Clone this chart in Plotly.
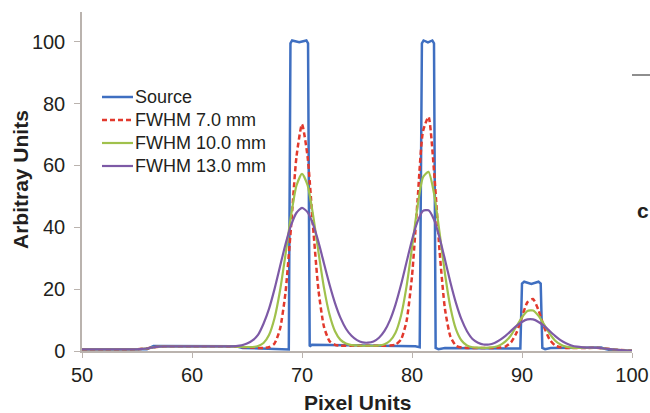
import plotly.graph_objects as go

# Source profile (step-like activity distribution)
source_x = [50, 55.9, 56.5, 64.0, 64.6, 68.4, 68.8, 68.95, 69.1, 69.75, 70.4, 70.55, 70.7, 70.9,
            75.0, 80.3, 80.7, 80.9, 81.05, 81.45, 81.85, 82.0, 82.15, 82.4, 83.0, 89.6, 89.85,
            90.0, 90.2, 90.85, 91.5, 91.7, 91.85, 92.1, 92.6, 97.2, 97.6, 98.2, 100]
source_y = [0.6, 0.6, 1.6, 1.5, 1.0, 0.7, 0.5, 99.5, 100.4, 99.8, 100.4, 99.5, 1.5, 2.0,
            1.8, 1.5, 1.2, 99.5, 100.4, 99.8, 100.4, 99.5, 1.0, 0.6, 1.0, 1.0, 0.8,
            21.8, 22.4, 21.7, 22.4, 21.8, 1.0, 0.6, 1.0, 1.1, 0.6, 0.2, 0.1]

# Sample positions for the blurred profiles
blur_x = [50, 52, 54, 55, 55.5, 56, 56.5, 57, 57.5, 60, 63, 63.5,
          64, 64.5, 65, 65.5, 66, 66.5, 67, 67.5, 68, 68.5, 69, 69.5,
          70, 70.5, 71, 71.5, 72, 72.5, 73, 73.5, 74, 74.5, 75, 75.5,
          76, 76.5, 77, 77.5, 78, 78.5, 79, 79.5, 80, 80.5, 81, 81.5,
          82, 82.5, 83, 83.5, 84, 84.5, 85, 85.5, 86, 86.5, 87, 87.5,
          88, 88.5, 89, 89.5, 90, 90.5, 91, 91.5, 92, 92.5, 93, 93.5,
          94, 94.5, 95, 95.5, 96, 97, 97.5, 98, 99, 100]

fwhm7_y = [0.5, 0.5, 0.5, 0.55, 0.7, 0.9, 1.2, 1.4, 1.5, 1.5, 1.5, 1.45,
           1.4, 1.3, 1.2, 1.1, 1.0, 1.0, 1.2, 2.4, 7.1, 18.9, 40.0, 62.9,
           73.3, 63.1, 40.4, 19.6, 7.8, 3.2, 2.0, 1.7, 1.7, 1.7, 1.7, 1.7,
           1.7, 1.7, 1.7, 1.7, 1.75, 2.05, 3.7, 9.6, 24.2, 48.4, 71.0, 75.7,
           58.3, 32.6, 13.5, 4.6, 1.7, 1.1, 1.0, 1.0, 1.0, 1.0, 1.0, 1.0,
           1.1, 1.45, 2.8, 5.9, 11.0, 15.8, 16.8, 13.2, 7.8, 3.8, 1.8, 1.2,
           1.0, 1.0, 1.0, 1.0, 1.0, 1.0, 0.8, 0.6, 0.3, 0.1]

fwhm10_y = [0.5, 0.5, 0.5, 0.55, 0.7, 0.9, 1.2, 1.4, 1.5, 1.5, 1.5, 1.45,
            1.4, 1.3, 1.3, 1.3, 1.6, 2.6, 5.2, 10.6, 19.5, 31.2, 43.7, 53.5,
            57.3, 53.7, 44.1, 31.9, 20.4, 11.8, 6.4, 3.6, 2.4, 1.9, 1.8, 1.7,
            1.7, 1.7, 1.8, 2.2, 3.3, 5.9, 11.4, 20.8, 33.4, 46.7, 56.2, 57.9,
            51.0, 38.4, 24.9, 14.0, 7.0, 3.4, 1.8, 1.2, 1.1, 1.0, 1.1, 1.3,
            1.9, 3.1, 5.1, 8.0, 10.9, 12.9, 13.1, 11.4, 8.6, 5.7, 3.4, 2.1,
            1.4, 1.1, 1.0, 1.0, 1.0, 1.0, 0.8, 0.6, 0.3, 0.1]

fwhm13_y = [0.5, 0.5, 0.5, 0.55, 0.7, 0.9, 1.2, 1.4, 1.5, 1.5, 1.5, 1.5,
            1.6, 1.8, 2.4, 3.4, 5.2, 8.8, 13.6, 20.0, 27.3, 34.5, 40.6, 44.7,
            46.3, 44.9, 41.0, 35.2, 28.3, 21.5, 15.5, 10.7, 7.2, 4.9, 3.5, 2.8,
            2.7, 3.1, 4.3, 6.5, 10.0, 15.0, 21.4, 28.7, 35.9, 41.8, 45.3, 45.5,
            42.5, 36.7, 29.5, 22.1, 15.5, 10.2, 6.4, 3.9, 2.7, 2.1, 2.1, 2.6,
            3.6, 4.9, 6.5, 8.1, 9.4, 10.2, 10.2, 9.4, 8.1, 6.5, 4.9, 3.5,
            2.5, 1.8, 1.4, 1.2, 1.1, 1.0, 0.8, 0.6, 0.3, 0.1]

series_names = ["Source", "FWHM 7.0 mm", "FWHM 10.0 mm", "FWHM 13.0 mm"]
x_ticks = [50, 60, 70, 80, 90, 100]
y_ticks = [0, 20, 40, 60, 80, 100]

text_color = "#231f20"
axis_color = "#bab3ae"
styles = [
    dict(color="#3f6fc1", width=2.5),
    dict(color="#e2392d", width=2.5, dash="5px,3px"),
    dict(color="#a0c14c", width=2.2),
    dict(color="#7d5aa6", width=2.2),
]

# Plot-area geometry in pixels, used to place the legend and titles
L, R, T, B, W, H = 82, 18, 12, 62, 650, 413
PW, PH = W - L - R, H - T - B


def px_x(px):
    return (px - L) / PW


def px_y(py):
    return (H - B - py) / PH


fig = go.Figure()
fig.add_trace(go.Scatter(x=source_x, y=source_y, mode="lines", name=series_names[0],
                         line=styles[0]))
for name, ys, st in zip(series_names[1:], [fwhm7_y, fwhm10_y, fwhm13_y], styles[1:]):
    fig.add_trace(go.Scatter(x=blur_x, y=ys, mode="lines", name=name,
                             line=dict(**st, shape="spline", smoothing=0.6)))

fig.update_layout(
    width=W, height=H,
    margin=dict(l=L, r=R, t=T, b=B, autoexpand=False),
    paper_bgcolor="white", plot_bgcolor="white",
    font=dict(family="Liberation Sans, Arial, sans-serif", color=text_color, size=18),
    showlegend=False,
    xaxis=dict(range=[50, 100], tickvals=x_ticks, ticks="outside", ticklen=5,
               tickcolor=axis_color, showline=True, linecolor=axis_color, linewidth=1.5,
               showgrid=False, zeroline=False, automargin=False,
               tickfont=dict(size=20, color=text_color)),
    yaxis=dict(range=[0, 109.6], tickvals=y_ticks, ticks="outside", ticklen=6,
               tickcolor=axis_color, showline=True, linecolor=axis_color, linewidth=1.5,
               showgrid=False, zeroline=False, automargin=False, ticklabelstandoff=5,
               tickfont=dict(size=20, color=text_color)),
)

# Axis titles
fig.add_annotation(xref="paper", yref="paper", x=px_x(357), y=px_y(402),
                   xanchor="center", yanchor="middle", showarrow=False,
                   text="<b>Pixel Units</b>", font=dict(size=21, color=text_color))
fig.add_annotation(xref="paper", yref="paper", x=px_x(20), y=px_y(180),
                   xanchor="center", yanchor="middle", showarrow=False, textangle=-90,
                   text="<b>Arbitray Units</b>", font=dict(size=21, color=text_color))

# Legend inside the plot area
row_y = [97, 120, 143, 166]
for name, st, ry in zip(series_names, styles, row_y):
    fig.add_shape(type="line", xref="paper", yref="paper",
                  x0=px_x(102), x1=px_x(133), y0=px_y(ry), y1=px_y(ry),
                  line=dict(color=st["color"], width=st["width"], dash=st.get("dash", "solid")))
    fig.add_annotation(xref="paper", yref="paper", x=px_x(133), y=px_y(ry),
                       xanchor="left", yanchor="middle", showarrow=False,
                       text=name, font=dict(size=18, color=text_color))

# Partial neighbouring panel content at the right edge
fig.add_shape(type="line", xref="paper", yref="paper",
              x0=px_x(632), x1=px_x(651), y0=px_y(75), y1=px_y(75),
              line=dict(color="#8e8e8e", width=2))
fig.add_annotation(xref="paper", yref="paper", x=px_x(650), y=px_y(210),
                   xanchor="right", yanchor="middle", showarrow=False, borderpad=0,
                   text="<b>c</b>", font=dict(size=21, color=text_color))

fig.write_html("out.html")
